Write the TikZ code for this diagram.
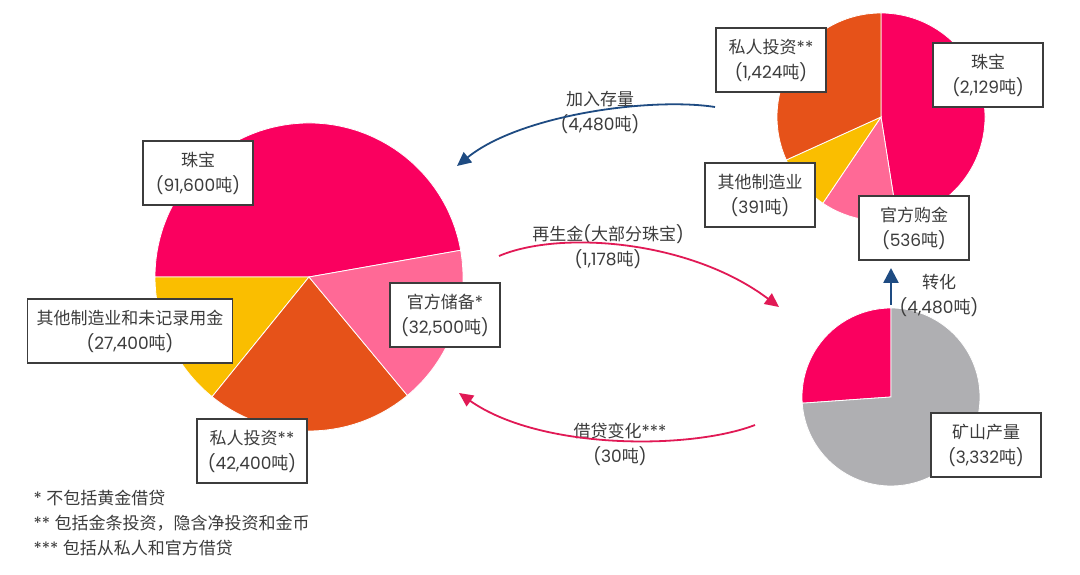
\documentclass[tikz,border=0pt]{standalone}
\usepackage{fontspec}
\setmainfont{Poppins}
\newfontfamily\cjk{Noto Sans CJK SC}
\usetikzlibrary{arrows.meta}
\definecolor{jewelred}{RGB}{250,0,95}
\definecolor{offpink}{RGB}{255,105,150}
\definecolor{privorange}{RGB}{230,82,25}
\definecolor{othergold}{RGB}{250,190,0}
\definecolor{minegray}{RGB}{175,175,178}
\definecolor{arrowblue}{RGB}{30,75,130}
\definecolor{arrowpink}{RGB}{225,25,85}
\definecolor{txtgray}{RGB}{60,60,60}
\newcommand{\dun}{{\cjk 吨}}
\begin{document}
\begin{tikzpicture}[x = 1pt,y = 1pt,
  lbl/.style = {font = \fontsize{17}{25}\selectfont,text = txtgray,align = center},
  lblbox/.style = {lbl,draw = txtgray,fill = white,line width = 1.2pt,minimum width = 110pt,minimum height = 64pt,inner xsep = 9pt},
  slice/.style = {draw = white,line width = 0.8pt},
  bluearrow/.style = {draw = arrowblue,line width = 1.8pt,-{Triangle[length = 14pt,width = 13pt]}},
  pinkarrow/.style = {draw = arrowpink,line width = 1.8pt,-{Triangle[length = 14pt,width = 13pt]}}]
\fill[white] (0,0) rectangle (1080,575);\useasboundingbox (0,0) rectangle (1080,575);
%
\fill[jewelred,slice] (309,298) -- ++(10:154) arc[start angle = 10,end angle = 180,radius = 154] -- cycle;
\fill[othergold,slice] (309,298) -- ++(180:154) arc[start angle = 180,end angle = 231,radius = 154] -- cycle;
\fill[privorange,slice] (309,298) -- ++(231:154) arc[start angle = 231,end angle = 309.7,radius = 154] -- cycle;
\fill[offpink,slice] (309,298) -- ++(309.7:154) arc[start angle = 309.7,end angle = 370,radius = 154] -- cycle;
\node[lblbox] (bigJewel) at (198,402) {{\cjk 珠宝}\\(91,600\dun)};\node[lblbox] (bigOther) at (130,244)
{{\cjk 其他制造业和未记录用金}\\(27,400\dun)};\node[lblbox] (bigOfficial) at (445,260) {{\cjk 官方储备}*\\(32,500\dun)};
\node[lblbox] (bigPrivate) at (252,124) {{\cjk 私人投资}**\\(42,400\dun)};
%
\fill[jewelred,slice] (881,458) -- ++(-81:104) arc[start angle = -81,end angle = 90,radius = 104] -- cycle;
\fill[offpink,slice] (881,458) -- ++(-124:104) arc[start angle = -124,end angle = -81,radius = 104] -- cycle;
\fill[othergold,slice] (881,458) -- ++(-155.6:104) arc[start angle = -155.6,end angle = -124,radius = 104] -- cycle;
\fill[privorange,slice] (881,458) -- ++(90:104) arc[start angle = 90,end angle = 204.4,radius = 104] -- cycle;
\node[lblbox] (topPrivate) at (771,515) {{\cjk 私人投资}**\\(1,424\dun)};\node[lblbox] (topJewel) at (988,500)
{{\cjk 珠宝}\\(2,129\dun)};\node[lblbox] (topOther) at (760,380) {{\cjk 其他制造业}\\(391\dun)};
\node[lblbox] (topOfficial) at (914,347) {{\cjk 官方购金}\\(536\dun)};
%
\fill[jewelred,slice] (891,178) -- ++(90:89) arc[start angle = 90,end angle = 184,radius = 89] -- cycle;
\fill[minegray,slice] (891,178) -- ++(184:89) arc[start angle = 184,end angle = 450,radius = 89] -- cycle;
\node[lblbox] (mine) at (986,130) {{\cjk 矿山产量}\\(3,332\dun)};
%
\coordinate (convA) at (891,270);\coordinate (convB) at (891,307);
\draw[draw = arrowblue,line width = 2.6pt,-{Triangle[length = 15pt,width = 15pt]}] (convA) -- (convB);
\node[lbl] (convLbl) at (939,280) {{\cjk 转化}\\(4,480\dun)};
%
\coordinate (addA) at (715,468);\coordinate (addB) at (457,409);
\node[lbl] (addLbl) at (600,463) {{\cjk 加入存量}\\(4,480\dun)};
\draw[bluearrow] (addA) .. controls (650,478) and (520,460) .. (addB);
%
\coordinate (recA) at (499,319);\coordinate (recB) at (779,268);
\node[lbl] (recLbl) at (608,328) {{\cjk 再生金}({\cjk 大部分珠宝})\\(1,178\dun)};
\draw[pinkarrow] (recA) .. controls (560,345) and (690,335) .. (recB);
%
\coordinate (lendA) at (755,150);\coordinate (lendB) at (459,182);
\node[lbl] (lendLbl) at (620,131) {{\cjk 借贷变化}***\\(30\dun)};
\draw[pinkarrow] (lendA) .. controls (690,125) and (540,125) .. (lendB);
%
\node[lbl,anchor = west] (fnA) at (30,77) {* {\cjk 不包括黄金借贷}};
\node[lbl,anchor = west] (fnB) at (30,52) {** {\cjk 包括金条投资，隐含净投资和金币}};
\node[lbl,anchor = west] (fnC) at (30,27) {*** {\cjk 包括从私人和官方借贷}};
\end{tikzpicture}
\end{document}
